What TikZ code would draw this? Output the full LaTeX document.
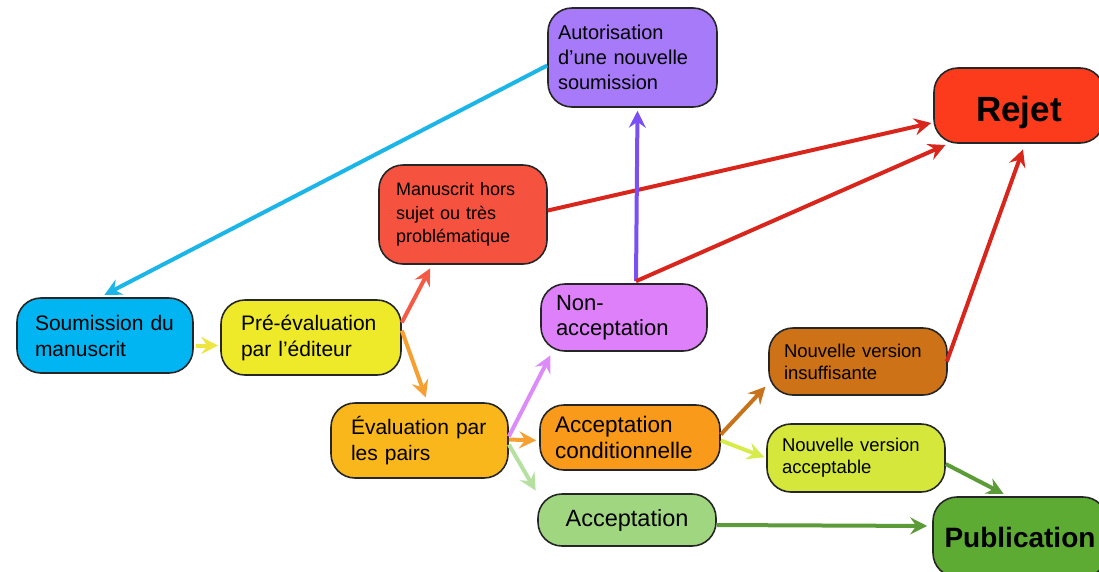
\documentclass[tikz,border=0pt]{standalone}
\usepackage{fontspec}
\setmainfont{Liberation Sans}
\usetikzlibrary{arrows.meta,calc}
\definecolor{cSub}{HTML}{00B5F1}
\definecolor{cPre}{HTML}{EEEA2A}
\definecolor{cMan}{HTML}{F5533F}
\definecolor{cAut}{HTML}{A67AF8}
\definecolor{cRej}{HTML}{FC3B1C}
\definecolor{cNon}{HTML}{DE80F9}
\definecolor{cEva}{HTML}{F9B71B}
\definecolor{cAcd}{HTML}{F99A1A}
\definecolor{cNvi}{HTML}{CD7216}
\definecolor{cNva}{HTML}{D4E73A}
\definecolor{cAcc}{HTML}{A0D680}
\definecolor{cPub}{HTML}{5DAB33}
\definecolor{aCyan}{HTML}{1BB5E8}
\definecolor{aYel}{HTML}{EEE640}
\definecolor{aTom}{HTML}{F55A45}
\definecolor{aOra}{HTML}{F5A030}
\definecolor{aRed}{HTML}{D9261C}
\definecolor{aVio}{HTML}{7A50F5}
\definecolor{aPink}{HTML}{DD8BF8}
\definecolor{aLgr}{HTML}{B5E0A0}
\definecolor{aBrn}{HTML}{C8731C}
\definecolor{aLime}{HTML}{D7EC4A}
\definecolor{aGrn}{HTML}{5B9C38}
\tikzset{
  box/.style={draw=black!85, line width=1.6pt, rounded corners=24pt, align=left, inner ysep=0pt, anchor=center},
  arr/.style={line width=4pt, -{Stealth[length=17pt,width=17pt,inset=6pt]}},
}
\begin{document}
\begin{tikzpicture}[x=1pt,y=-1pt]
\useasboundingbox (0,0) rectangle (1099,571);
% nodes
\node[box, fill=cSub, minimum width=176pt, minimum height=75pt, inner xsep=18pt, text width=140pt,
  font=\fontsize{21}{26}\selectfont] (sub) at (105,335.5) {Soumission du\\manuscrit};
\node[box, fill=cPre, minimum width=180pt, minimum height=75pt, inner xsep=20pt, text width=140pt,
  font=\fontsize{21}{26}\selectfont] (pre) at (311,337.5) {Pré-évaluation\\par l’éditeur};
\node[box, fill=cMan, minimum width=168pt, minimum height=99pt, inner xsep=17pt, text width=134pt,
  font=\fontsize{18}{23.5}\selectfont] (man) at (463,214.5) {Manuscrit hors\\sujet ou très\\problématique};
\node[box, fill=cAut, minimum width=169pt, minimum height=99pt, inner xsep=10pt, text width=149pt,
  font=\fontsize{20}{25}\selectfont] (aut) at (632.5,57.5) {Autorisation\\d’une nouvelle\\soumission};
\node[box, fill=cRej, minimum width=170pt, minimum height=75pt, align=center,
  font=\fontsize{35}{40}\selectfont\bfseries] (rej) at (1019,105.5) {\raisebox{-3.5pt}[25pt][0pt]{Rejet}};
\node[box, fill=cNon, minimum width=166pt, minimum height=67pt, inner xsep=15pt, text width=136pt,
  font=\fontsize{22}{25}\selectfont] (non) at (624,317.5) {Non-\\acceptation};
\node[box, fill=cEva, minimum width=177pt, minimum height=75pt, inner xsep=20pt, text width=137pt,
  font=\fontsize{21}{26}\selectfont] (eva) at (419.5,440.5) {Évaluation par\\les pairs};
\node[box, fill=cAcd, minimum width=180pt, minimum height=65pt, inner xsep=15pt, text width=150pt,
  font=\fontsize{22.5}{26}\selectfont] (acd) at (630,437.5) {Acceptation\\conditionnelle};
\node[box, fill=cNvi, minimum width=178pt, minimum height=67pt, inner xsep=15pt, text width=148pt,
  font=\fontsize{18.5}{22}\selectfont] (nvi) at (858,361.5) {Nouvelle version\\insuffisante};
\node[box, fill=cNva, minimum width=178pt, minimum height=68pt, inner xsep=15pt, text width=148pt,
  font=\fontsize{18.5}{22}\selectfont] (nva) at (856,458) {Nouvelle version\\acceptable};
\node[box, fill=cAcc, minimum width=178pt, minimum height=52pt, align=center,
  font=\fontsize{23.5}{26}\selectfont] (acc) at (627,520) {Acceptation};
\node[box, fill=cPub, minimum width=174pt, minimum height=80pt, align=center,
  font=\fontsize{28}{32}\selectfont\bfseries] (pub) at (1020,537) {Publication};
% connectors
\draw[arr, aCyan, shorten >=5pt] ($(aut.west)+(0,8)$) -- ($(sub.north)+(-5,0)$);
\draw[arr, aYel, shorten >=2pt] ($(sub.east)+(2,10)$) -- ($(pre.west)+(0,8)$);
\draw[arr, aTom, shorten >=4pt] ($(pre.east)+(0,-15)$) -- ($(man.south)+(-31,0)$);
\draw[arr, aOra, shorten >=5pt] ($(pre.east)+(0,-7)$) -- ($(eva.north)+(8,0)$);
\draw[arr, aRed, shorten >=2pt] ($(man.east)+(0,-4)$) -- ($(rej.west)+(0,17)$);
\draw[arr, aVio, shorten >=3pt] ($(non.north)+(12,-2)$) -- ($(aut.south)+(5,0)$);
\draw[arr, aRed, shorten >=3pt] ($(non.north)+(12,-2)$) -- ($(rej.south west)+(15,0)$);
\draw[arr, aRed, shorten >=6pt] ($(nvi.east)+(-1,0)$) -- ($(rej.south)+(6,0)$);
\draw[arr, aPink, shorten >=4pt] ($(eva.east)+(0,-4)$) -- ($(non.south west)+(12,0)$);
\draw[arr, aOra, shorten >=3pt] ($(eva.east)+(0,-1)$) -- ($(acd.west)+(0,3)$);
\draw[arr, aLgr, shorten >=3pt] ($(eva.east)+(0,4)$) -- (acc.north west);
\draw[arr, aBrn, shorten >=4pt] ($(acd.east)+(0,-3)$) -- ($(nvi.south west)+(0,-12)$);
\draw[arr, aLime, shorten >=2pt] ($(acd.east)+(0,3)$) -- (nva.west);
\draw[arr, aGrn, shorten >=5pt] ($(nva.east)+(0,6)$) -- ($(pub.north)+(-12,0)$);
\draw[arr, aGrn, shorten >=5pt] ($(acc.east)+(0,5)$) -- ($(pub.west)+(0,-11)$);
\end{tikzpicture}
\end{document}
